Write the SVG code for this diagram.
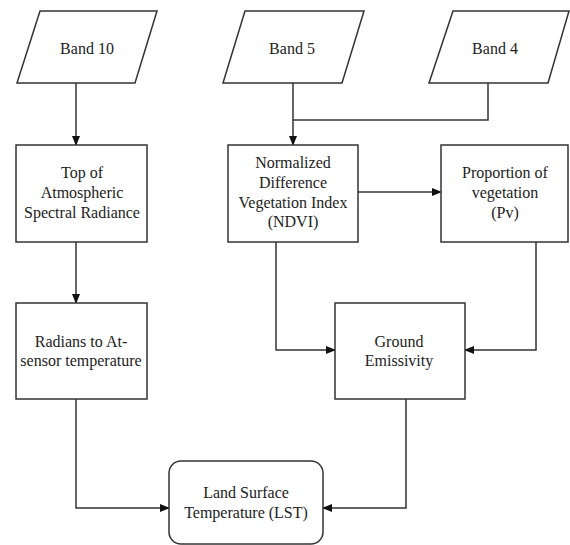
<svg xmlns="http://www.w3.org/2000/svg" width="570" height="545" viewBox="0 0 570 545">
<style>
.s{fill:#fff;stroke:#333;stroke-width:1.5}
.c{fill:none;stroke:#333;stroke-width:1.5}
text{font-size:16px;fill:#222;text-anchor:middle}
</style>
<defs>
<marker id="a" markerUnits="userSpaceOnUse" markerWidth="10" markerHeight="10" refX="9" refY="4" orient="auto">
<path d="M0,0 L10,4 L0,8 Z" fill="#111"/>
</marker>
</defs>
<rect width="570" height="545" fill="#fff"/>
<g id="connectors">
<path class="c" d="M76,83 V145" marker-end="url(#a)"/>
<path class="c" d="M293,83 V145" marker-end="url(#a)"/>
<path class="c" d="M488,83 V120 H293"/>
<path class="c" d="M76,242 V303" marker-end="url(#a)"/>
<path class="c" d="M358,192 H441" marker-end="url(#a)"/>
<path class="c" d="M276,242 V350 H335" marker-end="url(#a)"/>
<path class="c" d="M536,242 V350 H465" marker-end="url(#a)"/>
<path class="c" d="M76,399 V508 H169" marker-end="url(#a)"/>
<path class="c" d="M406,399 V508 H323" marker-end="url(#a)"/>
</g>
<g font-family="'Liberation Serif', 'DejaVu Serif', serif">
<g id="band10">
<polygon class="s" points="40,11 157,11 135,83 17,83"/>
<text x="87" y="54">Band 10</text>
</g>
<g id="band5">
<polygon class="s" points="245,11 364,11 342,83 223,83"/>
<text x="292" y="54">Band 5</text>
</g>
<g id="band4">
<polygon class="s" points="453,11 569,11 548,83 429,83"/>
<text x="495" y="54">Band 4</text>
</g>
<g id="toa">
<rect class="s" x="16" y="145" width="131" height="97"/>
<text x="82" y="178">Top of</text>
<text x="82" y="198">Atmospheric</text>
<text x="82" y="218">Spectral Radiance</text>
</g>
<g id="ndvi">
<rect class="s" x="228" y="145" width="130" height="97"/>
<text x="293" y="168">Normalized</text>
<text x="293" y="188">Difference</text>
<text x="293" y="208">Vegetation Index</text>
<text x="293" y="227">(NDVI)</text>
</g>
<g id="pv">
<rect class="s" x="441" y="145" width="127" height="97"/>
<text x="505" y="178">Proportion of</text>
<text x="505" y="198">vegetation</text>
<text x="505" y="218">(Pv)</text>
</g>
<g id="radians">
<rect class="s" x="16" y="303" width="131" height="96"/>
<text x="81" y="347">Radians to At-</text>
<text x="81" y="366">sensor temperature</text>
</g>
<g id="ground">
<rect class="s" x="335" y="303" width="130" height="96"/>
<text x="399" y="347">Ground</text>
<text x="399" y="366">Emissivity</text>
</g>
<g id="lst">
<rect class="s" x="169" y="461" width="154" height="83" rx="12"/>
<text x="246" y="498">Land Surface</text>
<text x="246" y="518">Temperature (LST)</text>
</g>
</g>
</svg>
